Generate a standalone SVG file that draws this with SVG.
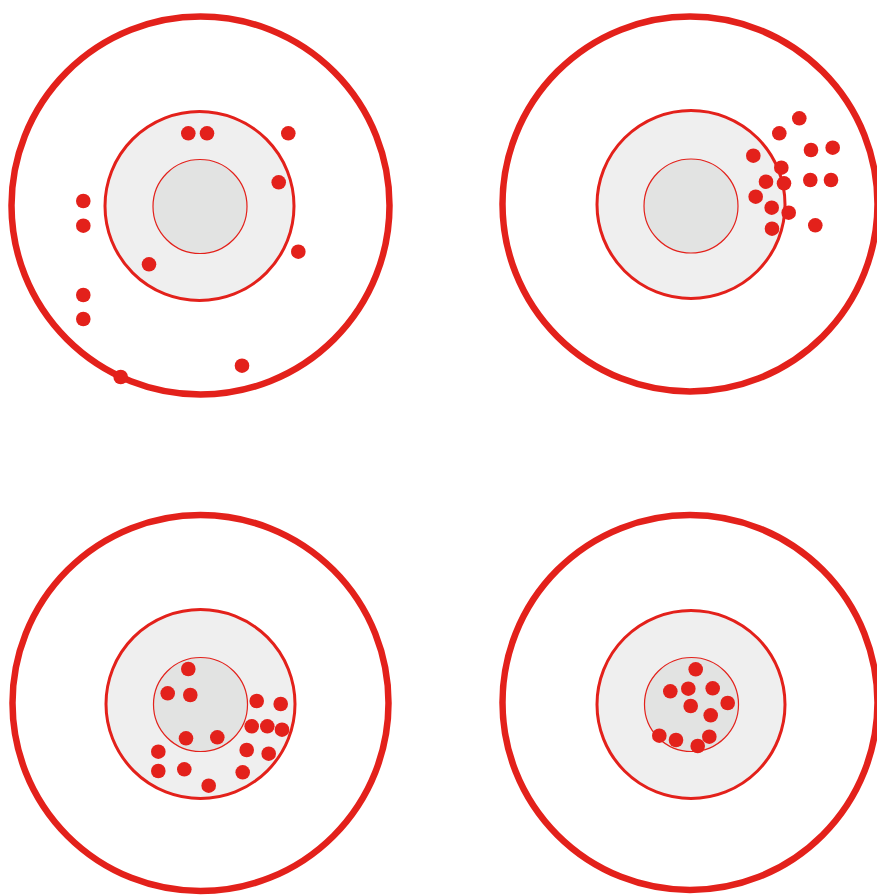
<svg xmlns="http://www.w3.org/2000/svg" width="877" height="895" viewBox="0 0 877 895">
<style>
.outer{fill:#ffffff;stroke:#e3211b;stroke-width:6.5}
.mid{fill:#efefef;stroke:#e3211b;stroke-width:3}
.inner{fill:#e2e3e2;stroke:#e3211b;stroke-width:1.2}
.dot{fill:#e3211b}
</style>
<rect width="877" height="895" fill="#ffffff"/>
<g id="target-top-left">
<circle class="outer" cx="200.5" cy="205.5" r="189"/>
<circle class="mid" cx="199.5" cy="206" r="94.5"/>
<circle class="inner" cx="200" cy="206.5" r="47"/>
<g class="dot">
<circle cx="188.3" cy="133.3" r="7.3"/><circle cx="207" cy="133.3" r="7.3"/><circle cx="288.3" cy="133.3" r="7.3"/>
<circle cx="278.7" cy="182.3" r="7.3"/><circle cx="83.3" cy="201" r="7.3"/><circle cx="83.3" cy="225.7" r="7.3"/>
<circle cx="298.3" cy="251.7" r="7.3"/><circle cx="149" cy="264.3" r="7.3"/><circle cx="83.3" cy="295" r="7.3"/>
<circle cx="83.3" cy="319" r="7.3"/><circle cx="242" cy="365.7" r="7.3"/><circle cx="120.7" cy="377" r="7.3"/>
</g>
</g>
<g id="target-top-right">
<circle class="outer" cx="690" cy="204" r="187.5"/>
<circle class="mid" cx="691" cy="204.5" r="94"/>
<circle class="inner" cx="691" cy="206" r="47"/>
<g class="dot">
<circle cx="799.3" cy="118.3" r="7.3"/><circle cx="779.3" cy="133.3" r="7.3"/><circle cx="811" cy="150" r="7.3"/>
<circle cx="832.7" cy="147.7" r="7.3"/><circle cx="753.3" cy="155.7" r="7.3"/><circle cx="781.3" cy="167.7" r="7.3"/>
<circle cx="766" cy="181.7" r="7.3"/><circle cx="784" cy="183.3" r="7.3"/><circle cx="810.3" cy="180" r="7.3"/>
<circle cx="831" cy="180" r="7.3"/><circle cx="755.7" cy="196.7" r="7.3"/><circle cx="771.7" cy="207.7" r="7.3"/>
<circle cx="788.7" cy="212.7" r="7.3"/><circle cx="772" cy="228.7" r="7.3"/><circle cx="815.3" cy="225.3" r="7.3"/>
</g>
</g>
<g id="target-bottom-left">
<circle class="outer" cx="200.5" cy="703" r="188"/>
<circle class="mid" cx="200.5" cy="704" r="94.5"/>
<circle class="inner" cx="200.5" cy="704.5" r="47"/>
<g class="dot">
<circle cx="188.3" cy="669" r="7.3"/><circle cx="167.7" cy="693.3" r="7.3"/><circle cx="190.3" cy="695" r="7.3"/>
<circle cx="256.7" cy="701" r="7.3"/><circle cx="280.7" cy="704" r="7.3"/><circle cx="251.7" cy="726.3" r="7.3"/>
<circle cx="267.3" cy="726.3" r="7.3"/><circle cx="282" cy="729.7" r="7.3"/><circle cx="186" cy="738.3" r="7.3"/>
<circle cx="217.3" cy="737.3" r="7.3"/><circle cx="158.3" cy="751.7" r="7.3"/><circle cx="246.7" cy="750" r="7.3"/>
<circle cx="268.7" cy="753.7" r="7.3"/><circle cx="158.3" cy="771" r="7.3"/><circle cx="184.3" cy="769.3" r="7.3"/>
<circle cx="242.7" cy="772.3" r="7.3"/><circle cx="208.7" cy="785.7" r="7.3"/>
</g>
</g>
<g id="target-bottom-right">
<circle class="outer" cx="690" cy="702.5" r="187.5"/>
<circle class="mid" cx="691" cy="704.5" r="94"/>
<circle class="inner" cx="691.5" cy="704.5" r="47"/>
<g class="dot">
<circle cx="695.7" cy="669.3" r="7.3"/><circle cx="670.3" cy="691.3" r="7.3"/><circle cx="688.3" cy="688.7" r="7.3"/>
<circle cx="712.7" cy="688.3" r="7.3"/><circle cx="727.7" cy="703" r="7.3"/><circle cx="690.7" cy="706" r="7.3"/>
<circle cx="710.7" cy="715.3" r="7.3"/><circle cx="659.3" cy="735.7" r="7.3"/><circle cx="676" cy="740" r="7.3"/>
<circle cx="709.3" cy="736.7" r="7.3"/><circle cx="697.7" cy="746" r="7.3"/>
</g>
</g>
</svg>
